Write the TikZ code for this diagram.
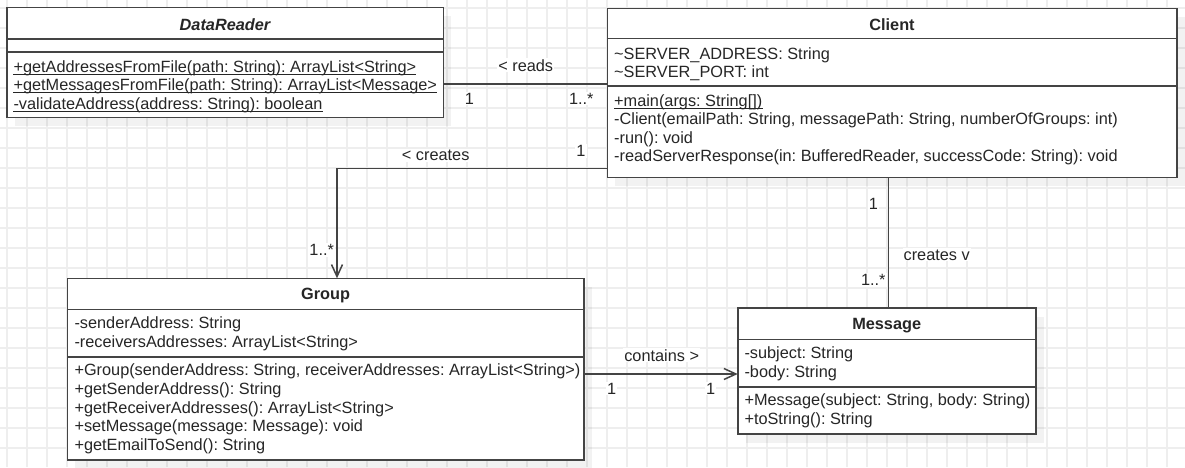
\documentclass[tikz,border=0pt]{standalone}
\usepackage{fontspec}
\setmainfont{Liberation Sans}
\usetikzlibrary{arrows.meta}
\definecolor{gridc}{HTML}{EEEEEE}
\definecolor{linec}{HTML}{444444}
\definecolor{textc}{HTML}{262626}
\begin{document}
\begin{tikzpicture}[x=1pt,y=-1pt,
  box/.style={draw=linec, line width=1.6pt, fill=white, inner sep=0pt, outer sep=0pt, anchor=north west},
  shadowc/.style={fill=black, fill opacity=0.05},
  sepline/.style={draw=linec, line width=1.6pt},
  txt/.style={anchor=base west, inner sep=0pt, text=textc, font=\fontsize{16.3}{19}\selectfont\frenchspacing},
  ttl/.style={anchor=base, inner sep=0pt, text=textc, font=\fontsize{16.3}{19}\selectfont\bfseries},
  lbl/.style={anchor=base, inner sep=1pt, fill=white, text=textc, font=\fontsize{16.3}{19}\selectfont\frenchspacing},
  conn/.style={draw=linec, line width=1.5pt},
  barb/.style={-{Straight Barb[length=12pt,width=11pt]}},
  ul/.style={draw=textc, line width=1pt}
]
% canvas
\fill[white] (0,0) rectangle (1185,467);
\useasboundingbox (0,0) rectangle (1185,467);
% grid
\foreach \gx in {7,27,...,1167} \draw[gridc, line width=1.6pt] (\gx,0) -- (\gx,467);
\foreach \gy in {8,28,...,448} \draw[gridc, line width=1.6pt] (0,\gy) -- (1185,\gy);

% shadows
\fill[shadowc] (14.7,16.3) rectangle ++(436.6,110);
\fill[shadowc] (615.3,17.3) rectangle ++(569.4,169);
\fill[shadowc] (75.3,287.3) rectangle ++(516.7,181.7);
\fill[shadowc] (745.7,317) rectangle ++(298,126);

% boxes
\node[box, minimum width=436.6pt, minimum height=110pt] (dr) at (6.7,7.3) {};
\node[box, minimum width=569.4pt, minimum height=169pt] (cl) at (607.3,8.3) {};
\node[box, minimum width=516.7pt, minimum height=181.7pt] (gr) at (67.3,278.3) {};
\node[box, minimum width=298pt, minimum height=126pt] (ms) at (737.7,308) {};

% separators
\draw[sepline] (dr.west |- 0,39) -- (dr.east |- 0,39);
\draw[sepline] (dr.west |- 0,51.7) -- (dr.east |- 0,51.7);
\draw[sepline] (cl.west |- 0,38.3) -- (cl.east |- 0,38.3);
\draw[sepline] (cl.west |- 0,86) -- (cl.east |- 0,86);
\draw[sepline] (gr.west |- 0,309.3) -- (gr.east |- 0,309.3);
\draw[sepline] (gr.west |- 0,356.7) -- (gr.east |- 0,356.7);
\draw[sepline] (ms.west |- 0,339.3) -- (ms.east |- 0,339.3);
\draw[sepline] (ms.west |- 0,386.7) -- (ms.east |- 0,386.7);

% titles
\node[ttl, font=\fontsize{16.3}{19}\selectfont\bfseries\itshape] (drt) at (dr.north |- 0,30) {DataReader};
\node[ttl] (clt) at (cl.north |- 0,30) {Client};
\node[ttl] (grt) at (gr.north |- 0,299.8) {Group};
\node[ttl] (mst) at (ms.north |- 0,329) {Message};

% DataReader members
\node[txt] (dr1) at (13.3,72) {+getAddressesFromFile(path: String): ArrayList<String>};
\node[txt] (dr2) at (13.3,90.7) {+getMessagesFromFile(path: String): ArrayList<Message>};
\node[txt] (dr3) at (13.3,109.4) {-validateAddress(address: String): boolean};
\draw[ul] ([yshift=-2pt]dr1.base west) -- ([yshift=-2pt]dr1.base east);
\draw[ul] ([yshift=-2pt]dr2.base west) -- ([yshift=-2pt]dr2.base east);
\draw[ul] ([yshift=-2pt]dr3.base west) -- ([yshift=-2pt]dr3.base east);

% Client members
\node[txt] (cl1) at (614,59) {\textasciitilde SERVER\_ADDRESS: String};
\node[txt] (cl2) at (614,77.4) {\textasciitilde SERVER\_PORT: int};
\node[txt] (cl3) at (614,106.5) {+main(args: String[])};
\draw[ul] ([yshift=-2pt]cl3.base west) -- ([yshift=-2pt]cl3.base east);
\node[txt] (cl4) at (614,124.9) {-Client(emailPath: String, messagePath: String, numberOfGroups: int)};
\node[txt] (cl5) at (614,143.4) {-run(): void};
\node[txt] (cl6) at (614,161.8) {-readServerResponse(in: BufferedReader, successCode: String): void};

% Group members
\node[txt] (gr1) at (74.3,328.3) {-senderAddress: String};
\node[txt] (gr2) at (74.3,347.1) {-receiversAddresses: ArrayList<String>};
\node[txt] (gr3) at (74.3,375.7) {+Group(senderAddress: String, receiverAddresses: ArrayList<String>)};
\node[txt] (gr4) at (74.3,394.4) {+getSenderAddress(): String};
\node[txt] (gr5) at (74.3,413.1) {+getReceiverAddresses(): ArrayList<String>};
\node[txt] (gr6) at (74.3,431.8) {+setMessage(message: Message): void};
\node[txt] (gr7) at (74.3,450.5) {+getEmailToSend(): String};

% Message members
\node[txt] (ms1) at (744.3,358.3) {-subject: String};
\node[txt] (ms2) at (744.3,377.1) {-body: String};
\node[txt] (ms3) at (744.3,405.7) {+Message(subject: String, body: String)};
\node[txt] (ms4) at (744.3,424.2) {+toString(): String};

% connectors
\draw[conn] (dr.east |- 0,84) -- (cl.west |- 0,84);
\coordinate (cbend) at (337,168.3);
\draw[conn, barb] (cl.west |- cbend) -- (cbend) -- (cbend |- gr.north);
\coordinate (cmx) at (888.3,0);
\draw[conn] (cl.south -| cmx) -- (ms.north -| cmx);
\coordinate (gmy) at (0,374);
\draw[conn, barb] (gr.east |- gmy) -- (ms.west |- gmy);

% connector labels
\node[lbl] (l1) at (525.7,71) {< reads};
\node[lbl] (l2) at (469.3,104) {1};
\node[lbl] (l3) at (581.3,104) {1..*};
\node[lbl] (l4) at (435.7,160.7) {< creates};
\node[lbl] (l5) at (581,156.7) {1};
\node[lbl] (l6) at (321.7,255.7) {1..*};
\node[lbl] (l7) at (873.3,209) {1};
\node[lbl] (l8) at (936.7,260) {creates v};
\node[lbl] (l9) at (873.3,285.7) {1..*};
\node[lbl] (l10) at (661.7,361) {contains >};
\node[lbl] (l11) at (611.7,394) {1};
\node[lbl] (l12) at (710.7,394) {1};
\end{tikzpicture}
\end{document}
